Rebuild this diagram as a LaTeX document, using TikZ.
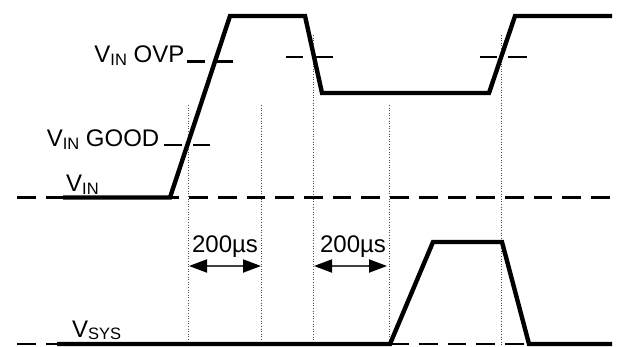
\documentclass[tikz,border=0pt]{standalone}
\usepackage{fontspec}
\setmainfont{Liberation Sans}
\usetikzlibrary{arrows.meta}
\newcommand{\subtxt}[1]{\raisebox{-2.5pt}{\fontsize{16.5}{16.5}\selectfont #1}}
\tikzset{
  wave/.style={line width=4.4pt, line join=miter, line cap=butt},
  base/.style={line width=2.5pt, dash pattern=on 18.7pt off 10pt},
  lvl/.style={line width=2.4pt},
  guide/.style={line width=1pt, black!70, dash pattern=on 1pt off 1.6pt},
  dim/.style={line width=2pt, black!75, {Triangle[length=18pt,width=13pt,color=black]}-{Triangle[length=18pt,width=13pt,color=black]}},
  lab/.style={inner sep=0pt, font=\fontsize{24}{24}\selectfont}
}
\begin{document}
\begin{tikzpicture}[x=1pt,y=-1pt]
\useasboundingbox[fill=white] (0,0) rectangle (617,347);
% guides
\foreach \gx/\gy [count=\i] in {188/105, 261/105, 313/35, 389/105, 501/35}{
  \coordinate (gt\i) at (\gx,\gy);
  \coordinate (gb\i) at (\gx,347);
  \draw[guide] (gt\i) -- (gb\i);
}
% baselines
\coordinate (b1s) at (17,197.5); \coordinate (b1e) at (612,197.5);
\coordinate (b2s) at (17,344); \coordinate (b2e) at (612,344);
\draw[base] (b1s) -- (b1e);
\draw[base] (b2s) -- (b2e);
% level dashes
\draw[lvl] (187,61.7) -- (205,61.7) (217,61.7) -- (233,61.7);
\draw[lvl] (286,57.3) -- (303,57.3) (315,57.3) -- (333,57.3);
\draw[lvl] (480,57.3) -- (497,57.3) (508,57.3) -- (527,57.3);
\draw[lvl] (164,145.3) -- (182,145.3) (193,145.3) -- (210,145.3);
% waveforms
\draw[wave] (63,197.5) -- (170,197.5) -- (230,16) -- (305,16) -- (322,93) -- (489,93) -- (515,16) -- (612,16);
\draw[wave] (57,344) -- (390,344) -- (433,242) -- (502,242) -- (529,344) -- (612,344);
% dimension arrows
\coordinate (a1l) at (189,266); \coordinate (a1r) at (261,266);
\coordinate (a2l) at (314,266); \coordinate (a2r) at (387,266);
\draw[dim] (a1l) -- (a1r);
\draw[dim] (a2l) -- (a2r);
% labels
\node[lab, anchor=base] (t1) at (225,252) {200µs};
\node[lab, anchor=base] (t2) at (353,252) {200µs};
\node[lab, anchor=base east] (ovp) at (184.5,62.7) {V\subtxt{IN} OVP};
\node[lab, anchor=base east] (good) at (159.5,147) {V\subtxt{IN} GOOD};
\node[lab, anchor=base west] (vin) at (66,192) {V\subtxt{IN}};
\node[lab, anchor=base west] (vsys) at (72,337) {V\subtxt{SYS}};
\end{tikzpicture}
\end{document}
